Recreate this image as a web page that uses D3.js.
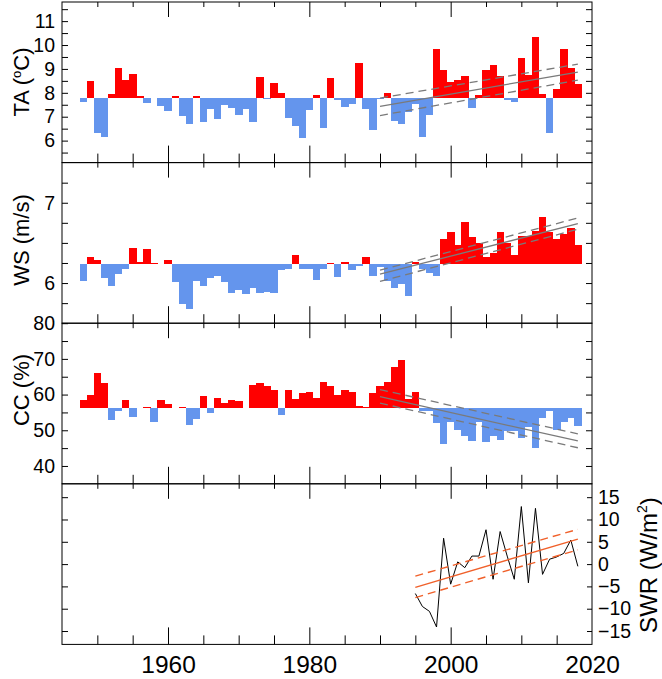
<!DOCTYPE html>
<html>
<head>
<meta charset="utf-8">
<script src="https://cdn.jsdelivr.net/npm/d3@7"></script>
<style>
  html, body { margin: 0; padding: 0; background: #fff; }
  svg { display: block; }
  text { font-family: "Liberation Sans", Arial, Helvetica, sans-serif; fill: #000; }
</style>
</head>
<body>
<svg id="chart" width="662" height="679"></svg>
<script>
// ---------------- DATA ----------------
const years = [1948,1949,1950,1951,1952,1953,1954,1955,1956,1957,1958,1959,1960,1961,1962,1963,1964,1965,1966,1967,1968,1969,1970,1971,1972,1973,1974,1975,1976,1977,1978,1979,1980,1981,1982,1983,1984,1985,1986,1987,1988,1989,1990,1991,1992,1993,1994,1995,1996,1997,1998,1999,2000,2001,2002,2003,2004,2005,2006,2007,2008,2009,2010,2011,2012,2013,2014,2015,2016,2017,2018];

const taValues = [7.63,8.48,6.33,6.14,7.94,9.05,8.54,8.77,7.86,7.59,7.78,7.45,7.25,7.86,7.03,6.69,7.86,6.78,7.33,6.89,7.48,7.35,7.08,7.33,6.78,8.68,7.74,8.43,8.00,6.95,6.63,6.11,7.28,7.91,6.54,8.60,7.69,7.40,7.53,9.25,7.33,6.44,7.74,8.01,6.82,6.71,7.18,7.52,6.17,7.06,9.83,8.95,8.44,8.55,8.70,7.37,7.90,8.95,9.16,8.72,7.72,7.60,9.46,8.75,10.35,7.97,6.33,8.14,9.83,9.05,8.37];
const taBase = 7.79;

const wsValues = [6.03,6.33,6.29,6.06,5.96,6.11,6.18,6.44,6.26,6.43,6.25,6.24,6.29,6.01,5.74,5.68,6.03,5.96,6.06,6.09,6.01,5.88,5.91,5.86,5.94,5.87,5.89,5.88,6.16,6.17,6.35,6.18,6.18,6.04,6.18,6.25,6.07,6.26,6.16,6.21,6.33,6.09,6.20,6.02,5.94,5.99,5.84,6.26,6.17,6.12,6.09,6.55,6.63,6.48,6.76,6.57,6.50,6.33,6.37,6.64,6.50,6.35,6.59,6.58,6.65,6.82,6.63,6.55,6.61,6.69,6.48];
const wsBase = 6.233;

const ccValues = [58.6,60.0,66.1,63.3,53.0,55.3,58.6,53.6,56.2,56.6,52.4,58.6,57.5,56.3,56.6,51.5,53.2,59.5,54.7,59.0,57.7,58.6,58.3,56.1,62.7,63.3,62.3,61.2,54.2,61.4,58.8,60.5,60.7,59.1,63.5,62.3,59.8,61.2,60.7,56.8,56.5,60.4,62.5,63.6,67.8,69.7,58.8,60.6,55.5,55.5,52.1,46.2,52.3,50.1,48.5,47.1,52.3,46.8,48.4,47.4,49.7,49.9,47.9,50.9,45.0,53.3,55.3,50.2,52.3,53.5,51.3];
const ccBase = 56.3;

const swrYears = [1995,1996,1997,1998,1999,2000,2001,2002,2003,2004,2005,2006,2007,2008,2009,2010,2011,2012,2013,2014,2015,2016,2017,2018];
const swrValues = [-6.6,-9.5,-10.6,-14.1,5.8,-4.5,0.5,-0.8,1.8,1.8,7.7,-3.4,7.3,1.8,-3.4,12.9,-4.2,12.5,-2.3,1.1,1.6,2.4,5.4,-0.5];

// trend lines: [value at start, value at end]
const taTrendYears = [1990, 2018];
const taTrend = [7.43, 8.87];
const taTrendUpper = [7.78, 9.20];
const taTrendLower = [7.05, 8.53];

const wsTrendYears = [1990, 2018];
const wsTrend = [6.11, 6.74];
const wsTrendUpper = [6.16, 6.81];
const wsTrendLower = [6.02, 6.67];

const ccTrendYears = [1990, 2018];
const ccTrend = [59.4, 47.0];
const ccTrendUpper = [61.4, 49.0];
const ccTrendLower = [57.6, 45.1];

const swrTrendYears = [1995, 2018];
const swrTrend = [-5.2, 5.6];
const swrTrendUpper = [-2.7, 7.8];
const swrTrendLower = [-7.5, 3.2];

const xMinorTicks = [1950,1955,1965,1970,1975,1985,1990,1995,2005,2010,2015];
const xMajorTicks = [1960,1980,2000];
const xLabels = [1960,1980,2000,2020];

const taTicks = [5.5,6,6.5,7,7.5,8,8.5,9,9.5,10,10.5,11,11.5];
const taLabels = [6,7,8,9,10,11];
const wsTicks = [5.75,6,6.25,6.5,6.75,7,7.25];
const wsLabels = [6,7];
const ccTicks = [40,45,50,55,60,65,70,75,80];
const ccLabels = [40,50,60,70,80];
const swrTicks = [-15,-10,-5,0,5,10,15];

// ---------------- LAYOUT ----------------
const svg = d3.select("#chart");
const L = 62, R = 592, top0 = 2, ph = 160.6;
const pTop = i => top0 + i * ph;
const pBot = i => top0 + (i + 1) * ph;

const x = d3.scaleLinear().domain([1945, 2020]).range([L, R]);

const panels = [
  { y: d3.scaleLinear().domain([5.08, 11.8]).range([pBot(0), pTop(0)]), vals: taValues, base: taBase,
    ticks: taTicks, labels: taLabels, trendY: taTrendYears, tr: [taTrend, taTrendUpper, taTrendLower] },
  { y: d3.scaleLinear().domain([5.5, 7.5]).range([pBot(1), pTop(1)]), vals: wsValues, base: wsBase,
    ticks: wsTicks, labels: wsLabels, trendY: wsTrendYears, tr: [wsTrend, wsTrendUpper, wsTrendLower] },
  { y: d3.scaleLinear().domain([35, 80]).range([pBot(2), pTop(2)]), vals: ccValues, base: ccBase,
    ticks: ccTicks, labels: ccLabels, trendY: ccTrendYears, tr: [ccTrend, ccTrendUpper, ccTrendLower] }
];
const ySWR = d3.scaleLinear().domain([-18, 18]).range([pBot(3), pTop(3)]);

const RED = "#ff0000", BLUE = "#6495ed", GREY = "#7a7a7a", ORANGE = "#f0602a";

// bars + trend lines
panels.forEach((p) => {
  const g = svg.append("g");
  g.selectAll("rect").data(years.map((yr, k) => ({ yr, v: p.vals[k] })))
    .join("rect")
    .attr("x", d => x(d.yr - 0.5))
    .attr("width", d => x(d.yr + 0.5) - x(d.yr - 0.5) + 0.3)
    .attr("y", d => Math.min(p.y(d.v), p.y(p.base)))
    .attr("height", d => Math.abs(p.y(d.v) - p.y(p.base)))
    .attr("fill", d => d.v >= p.base ? RED : BLUE)
    .attr("shape-rendering", "crispEdges");

  const mk = (vals, dash) => g.append("line")
    .attr("x1", x(p.trendY[0])).attr("x2", x(p.trendY[1]))
    .attr("y1", p.y(vals[0])).attr("y2", p.y(vals[1]))
    .attr("stroke", GREY).attr("stroke-width", 1.3)
    .attr("stroke-dasharray", dash ? "8,5" : null);
  mk(p.tr[0], false); mk(p.tr[1], true); mk(p.tr[2], true);
});

// SWR line + trend
const line = d3.line().x((d, k) => x(swrYears[k])).y(d => ySWR(d));
svg.append("path").datum(swrValues).attr("d", line)
  .attr("fill", "none").attr("stroke", "#000").attr("stroke-width", 1);
[[swrTrend, false], [swrTrendUpper, true], [swrTrendLower, true]].forEach(([v, dash]) => {
  svg.append("line")
    .attr("x1", x(swrTrendYears[0])).attr("x2", x(swrTrendYears[1]))
    .attr("y1", ySWR(v[0])).attr("y2", ySWR(v[1]))
    .attr("stroke", ORANGE).attr("stroke-width", 1.4)
    .attr("stroke-dasharray", dash ? "8,5" : null);
});

// ---------------- AXES ----------------
function styleAxis(g) {
  g.select(".domain").remove();
  g.selectAll(".tick line").attr("stroke", "#000").attr("stroke-width", 1);
}
[0, 1, 2, 3].forEach(i => {
  svg.append("g").attr("transform", `translate(0,${pBot(i)})`)
    .call(d3.axisBottom(x).tickValues(xMinorTicks).tickSize(-9).tickFormat(""))
    .call(styleAxis);
  svg.append("g").attr("transform", `translate(0,${pBot(i)})`)
    .call(d3.axisBottom(x).tickValues(xMajorTicks).tickSize(-17).tickFormat(""))
    .call(styleAxis);
  svg.append("g").attr("transform", `translate(0,${pTop(i)})`)
    .call(d3.axisTop(x).tickValues(xMinorTicks).tickSize(-5).tickFormat(""))
    .call(styleAxis);
  svg.append("g").attr("transform", `translate(0,${pTop(i)})`)
    .call(d3.axisTop(x).tickValues(xMajorTicks).tickSize(-15).tickFormat(""))
    .call(styleAxis);
});

// x labels
svg.append("g").attr("transform", `translate(0,${pBot(3)})`)
  .call(d3.axisBottom(x).tickValues(xLabels).tickSize(0).tickFormat(d3.format("d")))
  .call(styleAxis)
  .call(g => g.selectAll("text").attr("font-size", 24.5).attr("y", 29).attr("dy", 0));

panels.forEach((p, i) => {
  svg.append("g").attr("transform", `translate(${L},0)`)
    .call(d3.axisLeft(p.y).tickValues(p.ticks).tickSize(-6).tickPadding(7)
      .tickFormat(d => p.labels.includes(d) ? d3.format("d")(d) : ""))
    .call(styleAxis)
    .call(g => g.selectAll("text").attr("font-size", 19.5));
  svg.append("g").attr("transform", `translate(${R},0)`)
    .call(d3.axisRight(p.y).tickValues(p.ticks.filter(t => p.y(t) > pTop(i) + 1)).tickSize(-6).tickFormat(""))
    .call(styleAxis);
});
// panel 4 left ticks
svg.append("g").attr("transform", `translate(${L},0)`)
  .call(d3.axisLeft(ySWR).tickValues(swrTicks).tickSize(-6).tickFormat(""))
  .call(styleAxis);
// panel 4 right axis
svg.append("g").attr("transform", `translate(${R},0)`)
  .call(d3.axisRight(ySWR).tickValues(swrTicks).tickSize(-5).tickPadding(6))
  .call(styleAxis)
  .call(g => g.selectAll("text").attr("font-size", 19.5));

// frames
[0, 1, 2, 3].forEach(i => {
  svg.append("rect").attr("x", L).attr("y", pTop(i)).attr("width", R - L).attr("height", ph)
    .attr("fill", "none").attr("stroke", "#000").attr("stroke-width", 1);
});

// titles
const ta = svg.append("text").attr("transform", "translate(29,82) rotate(-90)")
  .attr("text-anchor", "middle").attr("font-size", 22);
ta.append("tspan").text("TA (");
ta.append("tspan").text("o").attr("font-size", 13).attr("dy", -8);
ta.append("tspan").text("C)").attr("dy", 8);
svg.append("text").attr("transform", "translate(29,240) rotate(-90)")
  .attr("text-anchor", "middle").attr("font-size", 22).text("WS (m/s)");
svg.append("text").attr("transform", "translate(29,390) rotate(-90)")
  .attr("text-anchor", "middle").attr("font-size", 22).text("CC (%)");
const sw = svg.append("text").attr("transform", "translate(657,565) rotate(-90)")
  .attr("text-anchor", "middle").attr("font-size", 24);
sw.append("tspan").text("SWR (W/m");
sw.append("tspan").text("2").attr("font-size", 14).attr("dy", -10);
sw.append("tspan").text(")").attr("dy", 10);
</script>
</body>
</html>
